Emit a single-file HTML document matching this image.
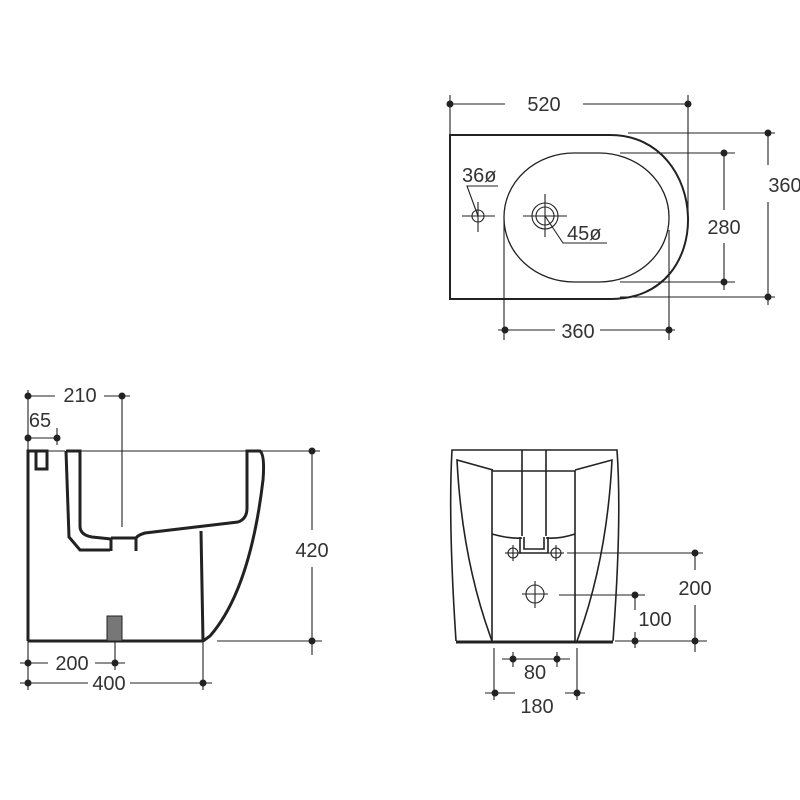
<!DOCTYPE html>
<html><head><style>body{margin:0;background:#fff}svg{display:block}text{font-family:"Liberation Sans",sans-serif;font-size:20px;fill:#333}</style></head><body>
<svg width="800" height="800" viewBox="0 0 800 800">
<g stroke="#222" fill="none">
<!-- TOP VIEW -->
<path d="M450 135 H610 C710 135 718 300 610 299 H450 Z" stroke-width="2"/>
<rect x="504" y="153" width="165" height="129" rx="70" ry="64" stroke-width="1.3"/>
<g stroke-width="1.1">
<line x1="450" y1="104" x2="505" y2="104"/><line x1="583" y1="104" x2="688" y2="104"/>
<line x1="450" y1="95" x2="450" y2="135"/><line x1="688" y1="95" x2="688" y2="215"/>
<line x1="628" y1="133" x2="775" y2="133"/><line x1="620" y1="297" x2="775" y2="297"/>
<line x1="768" y1="133" x2="768" y2="165"/><line x1="768" y1="202" x2="768" y2="305"/>
<line x1="620" y1="153" x2="735" y2="153"/><line x1="620" y1="282" x2="735" y2="282"/>
<line x1="724" y1="153" x2="724" y2="210"/><line x1="724" y1="243" x2="724" y2="290"/>
<line x1="504" y1="220" x2="504" y2="340"/><line x1="669" y1="230" x2="669" y2="340"/>
<line x1="498" y1="330" x2="555" y2="330"/><line x1="600" y1="330" x2="675" y2="330"/>
<circle cx="478" cy="216" r="6"/><line x1="462" y1="216" x2="495" y2="216"/><line x1="478" y1="202" x2="478" y2="232"/>
<polyline points="478,216 467,186 498,186"/>
<circle cx="545" cy="216" r="13"/><circle cx="545" cy="216" r="9"/>
<line x1="523" y1="216" x2="567" y2="216"/><line x1="545" y1="194" x2="545" y2="237"/>
<polyline points="545,216 563,243 607,243"/>
</g>
<g fill="#222" stroke="none">
<circle cx="450" cy="104" r="3.5"/><circle cx="688" cy="104" r="3.5"/>
<circle cx="768" cy="133" r="3.5"/><circle cx="768" cy="297" r="3.5"/>
<circle cx="724" cy="153" r="3.5"/><circle cx="724" cy="282" r="3.5"/>
<circle cx="505" cy="330" r="3.5"/><circle cx="669" cy="330" r="3.5"/>
</g>

<!-- SIDE VIEW -->
<g stroke-width="3">
<path d="M28 641 V451 H47 V469 H36 V451"/>
<path d="M203 641 H28"/>
<path d="M66 451 H80 V526 Q80 535 92 537 L111 539 V551 M66 451 L69 537 L80 550 H110"/>
<path d="M111 538 H136 V551 M136 538 Q138 535 145 533 L238 522 Q247 519 247 508 V451 H260 Q265 455 263 480 Q250 590 210 636 L203 641"/>
<line x1="201" y1="531" x2="203" y2="641"/>
</g>
<rect x="107" y="616" width="15" height="25" fill="#777" stroke-width="1"/>
<g stroke-width="1.1">
<line x1="47" y1="451" x2="65" y2="451"/><line x1="80" y1="451" x2="320" y2="451"/>
<line x1="122" y1="396" x2="122" y2="527"/>
<line x1="28" y1="396" x2="55" y2="396"/><line x1="104" y1="396" x2="130" y2="396"/>
<line x1="28" y1="438" x2="57" y2="438"/><line x1="57" y1="428" x2="57" y2="445"/>
<line x1="28" y1="390" x2="28" y2="451"/>
<line x1="217" y1="641" x2="322" y2="641"/>
<line x1="312" y1="451" x2="312" y2="530"/><line x1="312" y1="567" x2="312" y2="655"/>
<line x1="20" y1="663" x2="48" y2="663"/><line x1="95" y1="663" x2="125" y2="663"/>
<line x1="20" y1="683" x2="88" y2="683"/><line x1="130" y1="683" x2="212" y2="683"/>
<line x1="28" y1="641" x2="28" y2="690"/><line x1="115" y1="641" x2="115" y2="670"/><line x1="203" y1="641" x2="203" y2="690"/>
</g>
<g fill="#222" stroke="none">
<circle cx="28" cy="396" r="3.5"/><circle cx="122" cy="396" r="3.5"/>
<circle cx="28" cy="438" r="3.5"/><circle cx="57" cy="438" r="3.5"/>
<circle cx="312" cy="451" r="3.5"/><circle cx="312" cy="641" r="3.5"/>
<circle cx="28" cy="663" r="3.5"/><circle cx="115" cy="663" r="3.5"/>
<circle cx="28" cy="683" r="3.5"/><circle cx="203" cy="683" r="3.5"/>
</g>

<!-- FRONT VIEW -->
<g stroke-width="1.6">
<path d="M456 641 Q448 520 452 450 H617 Q622 520 613 641"/>
<path d="M492 641 Q462 560 457 460 L493 470 M577 641 Q607 560 612 460 L575 470"/>
<path d="M492 641 V471 H575 V641"/>
<path d="M522 450 V536 M546 450 V536 M492 534 Q510 539 522 538 M546 538 Q560 539 575 534"/>
<path d="M520 537 V553 H548 V537 M524 537 V549 H544 V537"/>
</g>
<line x1="456" y1="642" x2="613" y2="642" stroke-width="3"/>
<g stroke-width="1.1">
<circle cx="513" cy="553" r="5"/><line x1="505" y1="553" x2="521" y2="553"/><line x1="513" y1="545" x2="513" y2="561"/>
<circle cx="556" cy="553" r="5"/><line x1="548" y1="553" x2="564" y2="553"/><line x1="556" y1="545" x2="556" y2="561"/>
<circle cx="535" cy="594" r="9"/><line x1="522" y1="594" x2="548" y2="594"/><line x1="535" y1="581" x2="535" y2="608"/>
<line x1="567" y1="553" x2="703" y2="553"/><line x1="559" y1="595" x2="645" y2="595"/>
<line x1="615" y1="641" x2="707" y2="641"/>
<line x1="695" y1="553" x2="695" y2="570"/><line x1="695" y1="605" x2="695" y2="652"/>
<line x1="635" y1="595" x2="635" y2="610"/><line x1="635" y1="632" x2="635" y2="648"/>
<line x1="494" y1="648" x2="494" y2="700"/><line x1="577" y1="648" x2="577" y2="700"/>
<line x1="502" y1="659" x2="570" y2="659"/><line x1="513" y1="652" x2="513" y2="667"/><line x1="557" y1="652" x2="557" y2="667"/>
<line x1="485" y1="693" x2="585" y2="693"/>
</g>
<g fill="#222" stroke="none">
<circle cx="695" cy="553" r="3.5"/><circle cx="695" cy="641" r="3.5"/>
<circle cx="635" cy="595" r="3.5"/><circle cx="635" cy="641" r="3.5"/>
<circle cx="513" cy="659" r="3.5"/><circle cx="557" cy="659" r="3.5"/>
<circle cx="495" cy="693" r="3.5"/><circle cx="577" cy="693" r="3.5"/>
</g>
</g>
<rect x="515" y="685" width="50" height="16" fill="#fff"/>
<text x="544" y="111" text-anchor="middle">520</text>
<text x="785" y="192" text-anchor="middle">360</text>
<text x="724" y="234" text-anchor="middle">280</text>
<text x="578" y="338" text-anchor="middle">360</text>
<text x="462" y="182">36ø</text>
<text x="567" y="240">45ø</text>
<text x="80" y="402" text-anchor="middle">210</text>
<text x="40" y="427" text-anchor="middle">65</text>
<text x="312" y="557" text-anchor="middle">420</text>
<text x="72" y="670" text-anchor="middle">200</text>
<text x="109" y="690" text-anchor="middle">400</text>
<text x="695" y="595" text-anchor="middle">200</text>
<text x="655" y="626" text-anchor="middle">100</text>
<text x="535" y="679" text-anchor="middle">80</text>
<text x="537" y="713" text-anchor="middle">180</text>
</svg>
</body></html>
